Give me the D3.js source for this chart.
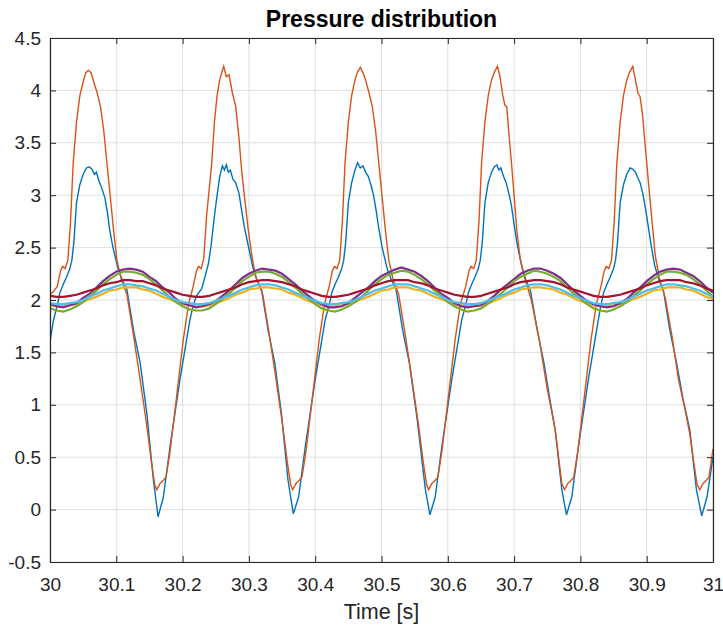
<!DOCTYPE html>
<html>
<head>
<meta charset="utf-8">
<script src="https://cdn.jsdelivr.net/npm/d3@7/dist/d3.min.js"></script>
<style>
  body { margin: 0; background: #fff; }
  text { font-family: "Liberation Sans", Arial, sans-serif; }
</style>
</head>
<body>
<div class="chart"></div>
<script>

var chartOptions = {
  width: 723,
  height: 633,
  left: 50,
  top: 38,
  right: 713,
  bottom: 562
}

// ticks and labels
var xTicks = [30, 30.1, 30.2, 30.3, 30.4, 30.5, 30.6, 30.7, 30.8, 30.9, 31];
var xTickLabels = ['30', '30.1', '30.2', '30.3', '30.4', '30.5', '30.6', '30.7', '30.8', '30.9', '31'];
var yTicks = [-0.5, 0, 0.5, 1, 1.5, 2, 2.5, 3, 3.5, 4, 4.5];
var yTickLabels = ['-0.5', '0', '0.5', '1', '1.5', '2', '2.5', '3', '3.5', '4', '4.5'];

// the two big signals, [time, value]
var orangeSeries = [
  [30.000,2.05],[30.005,2.08],[30.011,2.13],[30.016,2.28],[30.019,2.32],[30.023,2.30],[30.027,2.38],[30.031,2.75],[30.035,3.31],[30.040,3.70],[30.045,3.95],[30.050,4.08],[30.054,4.17],[30.058,4.19],[30.062,4.17],[30.066,4.08],[30.071,3.98],[30.076,3.85],[30.081,3.62],[30.086,3.30],[30.091,2.98],[30.096,2.66],[30.101,2.38],[30.107,2.21],[30.116,2.05],[30.126,1.66],[30.136,1.24],[30.146,0.80],[30.153,0.45],[30.158,0.24],[30.161,0.19],[30.166,0.25],[30.171,0.28],[30.175,0.31],[30.181,0.55],[30.191,1.08],[30.201,1.62],[30.209,1.96],
  [30.216,2.13],[30.221,2.28],[30.224,2.32],[30.228,2.30],[30.232,2.40],[30.236,2.79],[30.244,3.31],[30.248,3.70],[30.252,3.95],[30.256,4.10],[30.260,4.19],[30.262,4.23],[30.266,4.13],[30.270,4.15],[30.275,3.98],[30.280,3.85],[30.285,3.55],[30.289,3.24],[30.294,2.95],[30.299,2.67],[30.305,2.40],[30.311,2.21],[30.321,2.05],[30.331,1.66],[30.341,1.24],[30.351,0.80],[30.358,0.45],[30.363,0.24],[30.366,0.19],[30.371,0.25],[30.376,0.28],[30.380,0.31],[30.386,0.55],[30.396,1.08],[30.406,1.62],[30.414,1.96],
  [30.421,2.13],[30.426,2.28],[30.429,2.32],[30.433,2.30],[30.437,2.38],[30.441,2.75],[30.445,3.31],[30.450,3.70],[30.455,3.95],[30.460,4.10],[30.464,4.18],[30.468,4.22],[30.472,4.17],[30.476,4.10],[30.481,3.98],[30.486,3.85],[30.491,3.62],[30.496,3.30],[30.501,2.98],[30.506,2.66],[30.511,2.38],[30.517,2.21],[30.526,2.05],[30.536,1.66],[30.546,1.24],[30.556,0.80],[30.563,0.45],[30.568,0.24],[30.571,0.19],[30.576,0.25],[30.581,0.28],[30.585,0.31],[30.591,0.55],[30.601,1.08],[30.611,1.62],[30.619,1.96],
  [30.627,2.13],[30.632,2.28],[30.635,2.32],[30.639,2.30],[30.643,2.38],[30.647,2.75],[30.651,3.31],[30.656,3.70],[30.661,3.95],[30.666,4.10],[30.670,4.17],[30.675,4.23],[30.679,4.12],[30.683,3.95],[30.686,3.86],[30.689,3.84],[30.692,3.60],[30.696,3.31],[30.700,3.00],[30.704,2.67],[30.709,2.40],[30.716,2.21],[30.726,2.00],[30.738,1.62],[30.750,1.15],[30.762,0.76],[30.768,0.45],[30.772,0.25],[30.776,0.19],[30.781,0.25],[30.786,0.28],[30.790,0.31],[30.796,0.55],[30.806,1.08],[30.816,1.62],[30.824,1.96],
  [30.831,2.13],[30.836,2.28],[30.839,2.32],[30.843,2.30],[30.847,2.38],[30.851,2.75],[30.855,3.31],[30.860,3.70],[30.865,3.95],[30.870,4.10],[30.874,4.17],[30.879,4.23],[30.883,4.10],[30.887,3.97],[30.890,3.94],[30.894,3.75],[30.898,3.45],[30.903,3.10],[30.908,2.75],[30.913,2.42],[30.919,2.21],[30.928,2.02],[30.938,1.66],[30.948,1.24],[30.958,0.95],[30.965,0.72],[30.971,0.45],[30.976,0.24],[30.980,0.19],[30.985,0.25],[30.990,0.28],[30.994,0.31],[31.000,0.58]
];

var blueSeries = [
  [30.000,1.60],[30.005,1.80],[30.011,1.95],[30.015,2.07],[30.020,2.15],[30.025,2.22],[30.030,2.30],[30.033,2.38],[30.036,2.55],[30.040,2.93],[30.045,3.10],[30.050,3.20],[30.055,3.26],[30.059,3.27],[30.063,3.25],[30.067,3.20],[30.070,3.22],[30.073,3.15],[30.078,3.07],[30.083,2.97],[30.087,2.82],[30.090,2.67],[30.095,2.50],[30.103,2.29],[30.109,2.19],[30.116,2.10],[30.126,1.71],[30.136,1.40],[30.146,0.92],[30.156,0.28],[30.163,-0.07],[30.171,0.12],[30.181,0.60],[30.196,1.24],[30.206,1.62],[30.211,1.81],
  [30.216,1.95],[30.221,2.04],[30.229,2.11],[30.235,2.25],[30.239,2.35],[30.243,2.52],[30.247,2.75],[30.251,2.95],[30.256,3.18],[30.260,3.28],[30.263,3.24],[30.266,3.29],[30.269,3.22],[30.272,3.24],[30.276,3.15],[30.280,3.12],[30.285,3.02],[30.289,2.86],[30.293,2.70],[30.299,2.52],[30.306,2.31],[30.312,2.19],[30.319,2.10],[30.329,1.71],[30.339,1.40],[30.349,0.92],[30.359,0.28],[30.367,-0.04],[30.375,0.12],[30.385,0.60],[30.400,1.24],[30.410,1.62],[30.415,1.81],
  [30.421,1.95],[30.425,2.07],[30.430,2.15],[30.435,2.22],[30.440,2.30],[30.443,2.38],[30.446,2.55],[30.450,2.93],[30.455,3.12],[30.460,3.24],[30.464,3.31],[30.468,3.26],[30.472,3.28],[30.476,3.22],[30.480,3.18],[30.484,3.10],[30.488,3.00],[30.492,2.85],[30.496,2.68],[30.501,2.50],[30.509,2.29],[30.515,2.19],[30.522,2.10],[30.532,1.71],[30.542,1.40],[30.554,0.85],[30.566,0.20],[30.573,-0.05],[30.581,0.12],[30.591,0.60],[30.606,1.24],[30.616,1.62],[30.621,1.81],
  [30.627,1.95],[30.631,2.07],[30.636,2.15],[30.641,2.22],[30.646,2.30],[30.649,2.38],[30.652,2.55],[30.656,2.93],[30.661,3.12],[30.666,3.22],[30.670,3.27],[30.674,3.29],[30.677,3.24],[30.680,3.26],[30.684,3.18],[30.688,3.12],[30.692,3.02],[30.696,2.90],[30.700,2.72],[30.705,2.52],[30.712,2.31],[30.718,2.19],[30.725,2.08],[30.735,1.71],[30.745,1.40],[30.754,1.05],[30.762,0.76],[30.772,0.19],[30.779,-0.05],[30.787,0.12],[30.797,0.60],[30.812,1.24],[30.822,1.62],[30.827,1.81],
  [30.831,1.95],[30.835,2.07],[30.840,2.15],[30.845,2.22],[30.850,2.30],[30.853,2.38],[30.856,2.55],[30.860,2.93],[30.865,3.10],[30.870,3.20],[30.875,3.26],[30.879,3.25],[30.883,3.22],[30.887,3.16],[30.890,3.12],[30.894,3.02],[30.898,2.88],[30.902,2.72],[30.906,2.55],[30.912,2.33],[30.918,2.20],[30.925,2.10],[30.935,1.71],[30.945,1.40],[30.955,1.05],[30.965,0.76],[30.975,0.19],[30.983,-0.06],[30.991,0.12],[31.000,0.50]
];

// the five small signals share one time grid (every 10 ms)
var timeGrid = [
  30.00,30.01,30.02,30.03,30.04,30.05,30.06,30.07,30.08,30.09,
  30.10,30.11,30.12,30.13,30.14,30.15,30.16,30.17,30.18,30.19,
  30.20,30.21,30.22,30.23,30.24,30.25,30.26,30.27,30.28,30.29,
  30.30,30.31,30.32,30.33,30.34,30.35,30.36,30.37,30.38,30.39,
  30.40,30.41,30.42,30.43,30.44,30.45,30.46,30.47,30.48,30.49,
  30.50,30.51,30.52,30.53,30.54,30.55,30.56,30.57,30.58,30.59,
  30.60,30.61,30.62,30.63,30.64,30.65,30.66,30.67,30.68,30.69,
  30.70,30.71,30.72,30.73,30.74,30.75,30.76,30.77,30.78,30.79,
  30.80,30.81,30.82,30.83,30.84,30.85,30.86,30.87,30.88,30.89,
  30.90,30.91,30.92,30.93,30.94,30.95,30.96,30.97,30.98,30.99,
  31.00
];

var yellowVals = [
  1.95,1.94,1.94,1.95,1.96,1.98,2.01,2.03,2.06,2.09,
  2.10,2.12,2.12,2.12,2.10,2.09,2.06,2.03,2.01,1.98,
  1.96,1.95,1.94,1.94,1.95,1.97,1.99,2.02,2.05,2.07,
  2.10,2.11,2.12,2.12,2.11,2.10,2.07,2.05,2.02,1.99,
  1.97,1.95,1.94,1.94,1.95,1.96,1.98,2.01,2.03,2.06,
  2.09,2.10,2.12,2.12,2.12,2.10,2.09,2.06,2.03,2.01,
  1.98,1.96,1.95,1.94,1.94,1.95,1.97,1.99,2.02,2.05,
  2.07,2.10,2.11,2.12,2.12,2.11,2.10,2.07,2.05,2.02,
  1.99,1.97,1.95,1.94,1.94,1.95,1.96,1.98,2.01,2.03,
  2.06,2.09,2.10,2.12,2.12,2.12,2.10,2.09,2.06,2.03,
  2.01
];

var purpleVals = [
  1.96,1.94,1.93,1.95,1.97,2.02,2.06,2.12,2.18,2.23,
  2.27,2.29,2.30,2.29,2.27,2.22,2.18,2.12,2.07,2.01,
  1.97,1.95,1.93,1.94,1.96,1.99,2.04,2.09,2.15,2.21,
  2.25,2.28,2.30,2.29,2.28,2.25,2.20,2.15,2.09,2.04,
  1.99,1.96,1.93,1.93,1.94,1.97,2.02,2.07,2.12,2.18,
  2.23,2.26,2.29,2.31,2.29,2.27,2.23,2.18,2.12,2.06,
  2.02,1.97,1.94,1.93,1.94,1.95,1.99,2.04,2.10,2.15,
  2.20,2.25,2.28,2.30,2.30,2.28,2.25,2.21,2.15,2.09,
  2.04,1.99,1.96,1.94,1.93,1.94,1.97,2.01,2.07,2.12,
  2.18,2.23,2.27,2.29,2.30,2.29,2.26,2.23,2.18,2.12,
  2.07
];

var greenVals = [
  1.92,1.90,1.89,1.91,1.94,1.98,2.04,2.09,2.15,2.20,
  2.24,2.27,2.27,2.26,2.24,2.20,2.15,2.09,2.03,1.98,
  1.94,1.91,1.90,1.90,1.92,1.96,2.01,2.06,2.12,2.18,
  2.22,2.26,2.27,2.27,2.25,2.22,2.17,2.12,2.06,2.01,
  1.96,1.92,1.90,1.89,1.91,1.94,1.98,2.03,2.09,2.15,
  2.20,2.24,2.26,2.28,2.27,2.24,2.20,2.15,2.09,2.04,
  1.98,1.94,1.91,1.89,1.90,1.92,1.96,2.01,2.06,2.12,
  2.18,2.22,2.25,2.28,2.27,2.25,2.22,2.18,2.12,2.06,
  2.01,1.96,1.92,1.90,1.89,1.91,1.94,1.98,2.04,2.09,
  2.15,2.20,2.24,2.27,2.27,2.26,2.24,2.20,2.15,2.09,
  2.03
];

var lightBlueVals = [
  1.97,1.96,1.96,1.97,1.98,2.00,2.03,2.06,2.09,2.11,
  2.13,2.15,2.15,2.14,2.13,2.11,2.09,2.06,2.03,2.00,
  1.98,1.97,1.96,1.96,1.97,1.99,2.02,2.04,2.07,2.10,
  2.12,2.14,2.15,2.15,2.14,2.12,2.10,2.07,2.04,2.02,
  1.99,1.97,1.96,1.96,1.97,1.98,2.00,2.03,2.06,2.09,
  2.11,2.13,2.15,2.15,2.15,2.13,2.11,2.09,2.06,2.03,
  2.00,1.98,1.97,1.96,1.96,1.97,1.99,2.02,2.04,2.07,
  2.10,2.12,2.14,2.15,2.15,2.14,2.12,2.10,2.07,2.04,
  2.02,1.99,1.97,1.96,1.96,1.97,1.98,2.00,2.03,2.06,
  2.09,2.11,2.13,2.15,2.15,2.14,2.13,2.11,2.09,2.06,
  2.03
];

var darkRedVals = [
  2.04,2.03,2.03,2.04,2.05,2.07,2.09,2.11,2.14,2.16,
  2.17,2.19,2.19,2.18,2.18,2.16,2.14,2.11,2.09,2.07,
  2.05,2.04,2.03,2.03,2.04,2.06,2.08,2.10,2.12,2.15,
  2.17,2.18,2.19,2.19,2.18,2.17,2.15,2.13,2.10,2.08,
  2.06,2.04,2.03,2.03,2.04,2.05,2.07,2.09,2.11,2.14,
  2.16,2.18,2.19,2.19,2.19,2.17,2.16,2.14,2.11,2.09,
  2.07,2.05,2.04,2.03,2.03,2.04,2.06,2.08,2.10,2.12,
  2.15,2.17,2.18,2.19,2.19,2.18,2.17,2.15,2.12,2.10,
  2.08,2.06,2.04,2.03,2.03,2.04,2.05,2.07,2.09,2.11,
  2.14,2.16,2.18,2.19,2.19,2.19,2.17,2.16,2.14,2.11,
  2.09
];

// matlab default line colours, in plotting order
var smallSeries = [
  { name: 'yellow', color: '#EDB120', values: yellowVals },
  { name: 'purple', color: '#7E2F8E', values: purpleVals },
  { name: 'green', color: '#77AC30', values: greenVals },
  { name: 'lightblue', color: '#4DBEEE', values: lightBlueVals },
  { name: 'darkred', color: '#A2142F', values: darkRedVals }
];

var x = d3.scaleLinear().domain([30, 31]).range([chartOptions.left, chartOptions.right]);
var y = d3.scaleLinear().domain([-0.5, 4.5]).range([chartOptions.bottom, chartOptions.top]);

var svg = d3.select('.chart').append('svg')
            .attr('width', chartOptions.width)
            .attr('height', chartOptions.height);

svg.append('rect')
   .attr('width', chartOptions.width)
   .attr('height', chartOptions.height)
   .attr('fill', '#fff');

svg.append('clipPath').attr('id', 'plotclip')
   .append('rect')
   .attr('x', chartOptions.left)
   .attr('y', chartOptions.top)
   .attr('width', chartOptions.right - chartOptions.left)
   .attr('height', chartOptions.bottom - chartOptions.top);

//grid lines
var grid = svg.append('g').attr('class', 'grid');
grid.selectAll('line.gx').data(xTicks).enter()
    .append('line')
    .attr('x1', function(d){ return x(d); })
    .attr('x2', function(d){ return x(d); })
    .attr('y1', chartOptions.top)
    .attr('y2', chartOptions.bottom)
    .attr('stroke', '#dfdfdf')
    .attr('stroke-width', 1);
grid.selectAll('line.gy').data(yTicks).enter()
    .append('line')
    .attr('x1', chartOptions.left)
    .attr('x2', chartOptions.right)
    .attr('y1', function(d){ return y(d); })
    .attr('y2', function(d){ return y(d); })
    .attr('stroke', '#dfdfdf')
    .attr('stroke-width', 1);

var line = d3.line()
             .x(function(d){ return x(d[0]); })
             .y(function(d){ return y(d[1]); });

var plot = svg.append('g').attr('clip-path', 'url(#plotclip)');

plot.append('path')
    .datum(blueSeries)
    .attr('d', line)
    .attr('fill', 'none')
    .attr('stroke', '#0072BD')
    .attr('stroke-width', 1.4);

plot.append('path')
    .datum(orangeSeries)
    .attr('d', line)
    .attr('fill', 'none')
    .attr('stroke', '#D95319')
    .attr('stroke-width', 1.4);

plot.selectAll('path.small').data(smallSeries).enter()
    .append('path')
    .attr('class', 'small')
    .attr('d', function(s){
      return line(s.values.map(function(v, i){ return [timeGrid[i], v]; }));
    })
    .attr('fill', 'none')
    .attr('stroke', function(s){ return s.color; })
    .attr('stroke-width', 2.2);

//axes, ticks pointing inward on all four sides
var axisColor = '#262626';

var xAxis = d3.axisBottom(x).tickValues(xTicks)
              .tickFormat(function(d, i){ return xTickLabels[i]; })
              .tickSize(-6).tickSizeOuter(0).tickPadding(16);
var yAxis = d3.axisLeft(y).tickValues(yTicks)
              .tickFormat(function(d, i){ return yTickLabels[i]; })
              .tickSize(-6).tickSizeOuter(0).tickPadding(9);

var styleAxis = function(g, size){
  g.select('.domain').attr('stroke', axisColor).attr('stroke-width', 1.2);
  g.selectAll('.tick line').attr('stroke', axisColor).attr('stroke-width', 1);
  g.selectAll('.tick text')
   .attr('fill', axisColor)
   .style('font-size', size + 'px')
   .style('font-family', '"Liberation Sans", Arial, sans-serif');
}

svg.append('g')
   .attr('transform', 'translate(0,' + chartOptions.bottom + ')')
   .call(xAxis)
   .call(styleAxis, 19);

svg.append('g')
   .attr('transform', 'translate(' + chartOptions.left + ',0)')
   .call(yAxis)
   .call(styleAxis, 19);

svg.append('g')
   .attr('transform', 'translate(0,' + chartOptions.top + ')')
   .call(d3.axisTop(x).tickValues(xTicks).tickFormat('').tickSize(-6).tickSizeOuter(0))
   .call(styleAxis, 19);

svg.append('g')
   .attr('transform', 'translate(' + chartOptions.right + ',0)')
   .call(d3.axisRight(y).tickValues(yTicks).tickFormat('').tickSize(-6).tickSizeOuter(0))
   .call(styleAxis, 19);

//title and label
svg.append('text')
   .attr('x', (chartOptions.left + chartOptions.right) / 2)
   .attr('y', 27)
   .attr('text-anchor', 'middle')
   .attr('fill', '#000')
   .style('font-size', '23px')
   .style('font-weight', 'bold')
   .text('Pressure distribution');

svg.append('text')
   .attr('x', (chartOptions.left + chartOptions.right) / 2)
   .attr('y', 619)
   .attr('text-anchor', 'middle')
   .attr('fill', axisColor)
   .style('font-size', '21.5px')
   .text('Time [s]');

</script>
</body>
</html>
